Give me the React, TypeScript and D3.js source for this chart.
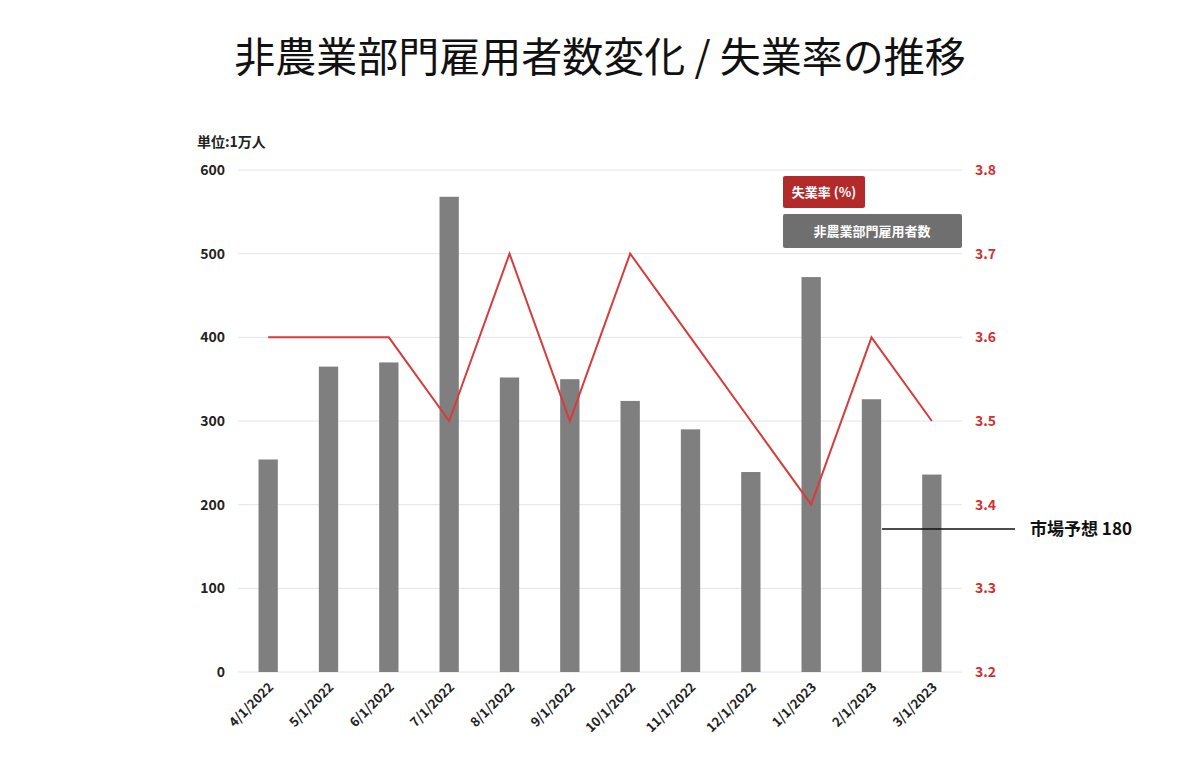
import React from "react";
import * as d3 from "d3";

const dates = ["4/1/2022","5/1/2022","6/1/2022","7/1/2022","8/1/2022","9/1/2022","10/1/2022","11/1/2022","12/1/2022","1/1/2023","2/1/2023","3/1/2023"];
const payrolls = [254,365,370,568,352,350,324,290,239,472,326,236];
const unemployment = [3.6,3.6,3.6,3.5,3.7,3.5,3.7,3.6,3.5,3.4,3.6,3.5];
const leftTicks = [0,100,200,300,400,500,600];
const rightTicks = [3.2,3.3,3.4,3.5,3.6,3.7,3.8];
const forecast = 171;

const FONT = "'Noto Sans CJK JP', 'Noto Sans', sans-serif";

export default function App() {
  const x = d3.scaleBand<string>().domain(dates).range([238, 962]).paddingInner(0.68).paddingOuter(0.34);
  const y = d3.scaleLinear().domain([0, 600]).range([672, 170]);
  const y2 = d3.scaleLinear().domain([3.2, 3.8]).range([672, 170]);
  const line = d3.line<number>().x((_, i) => x(dates[i])! + x.bandwidth() / 2).y(d => y2(d));
  const fy = y(forecast);
  return (
    <svg width={1200} height={768} style={{ position: "absolute", left: 0, top: 0, background: "#fff", fontFamily: FONT }}>
      <text x={600} y={72} textAnchor="middle" fontSize={41} fill="#111">非農業部門雇用者数変化 / 失業率の推移</text>
      <text x={197} y={147} fontSize={14} fontWeight="bold" fill="#222">単位:1万人</text>
      {leftTicks.map(t => (
        <g key={t}>
          <line x1={238} x2={962} y1={y(t)} y2={y(t)} stroke="#e4e4e4" />
          <text x={225} y={y(t) + 5} textAnchor="end" fontSize={14} fontWeight="bold" fill="#222">{t}</text>
        </g>
      ))}
      {rightTicks.map(t => (
        <text key={t} x={975} y={y2(t) + 5} fontSize={14} fontWeight="bold" fill="#d32f2f">{t.toFixed(1)}</text>
      ))}
      {payrolls.map((v, i) => (
        <rect key={i} x={x(dates[i])} y={y(v)} width={x.bandwidth()} height={y(0) - y(v)} fill="#7f7f7f" />
      ))}
      <path d={line(unemployment)!} fill="none" stroke="#d93a3a" strokeWidth={2} />
      {dates.map(d => {
        const cx = x(d)! + x.bandwidth() / 2 + 6;
        return (
          <text key={d} transform={`translate(${cx},688) rotate(-45)`} textAnchor="end" fontSize={13} fontWeight="bold" fill="#222">{d}</text>
        );
      })}
      <line x1={882} x2={1015} y1={fy} y2={fy} stroke="#111" strokeWidth={1.5} />
      <text x={1030} y={fy + 6} fontSize={17} fontWeight="bold" fill="#111">市場予想 180</text>
      <rect x={783} y={176} width={82} height={32} rx={2} fill="#b22a2a" />
      <text x={824} y={197} textAnchor="middle" fontSize={13} fontWeight="bold" fill="#fff">失業率 (%)</text>
      <rect x={783} y={214} width={179} height={34} rx={2} fill="#6f6f6f" />
      <text x={872} y={236} textAnchor="middle" fontSize={13} fontWeight="bold" fill="#fff">非農業部門雇用者数</text>
    </svg>
  );
}
